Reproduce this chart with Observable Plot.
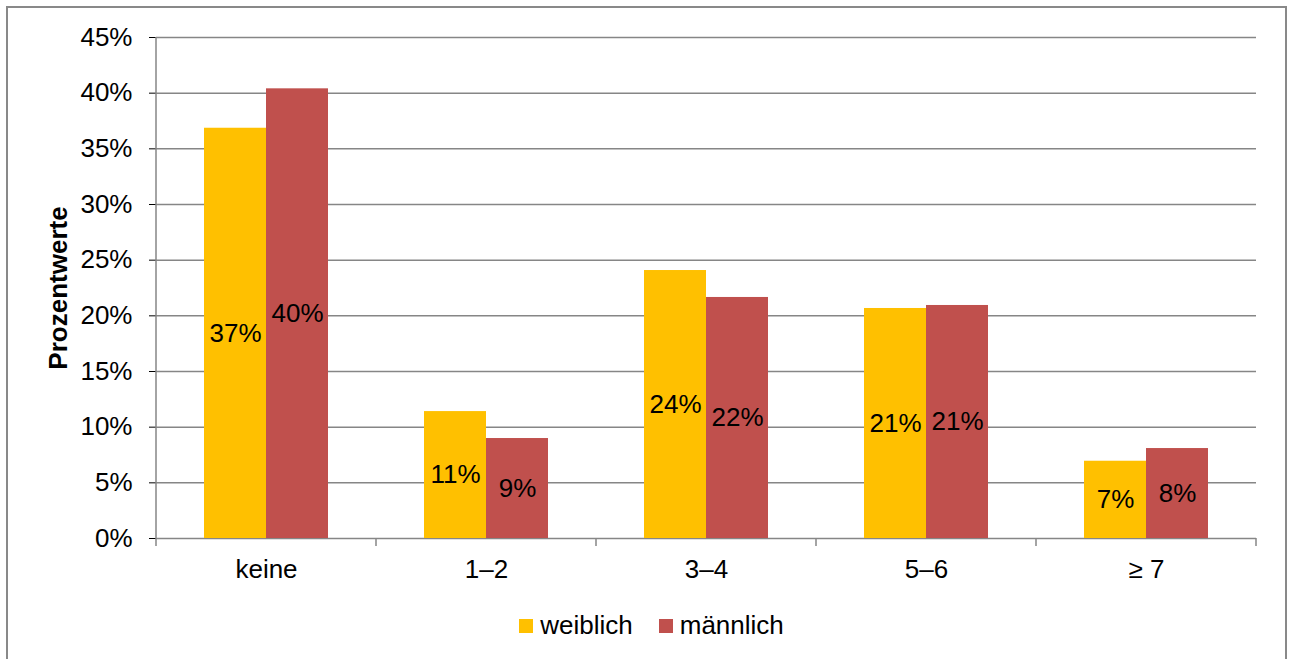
<!DOCTYPE html>
<html>
<head>
<meta charset="utf-8">
<script src="https://cdn.jsdelivr.net/npm/d3@7"></script>
<script src="https://cdn.jsdelivr.net/npm/@observablehq/plot@0.6"></script>
<style>
  html, body { margin: 0; padding: 0; background: #fff; }
  #wrap { position: relative; width: 1293px; height: 659px; overflow: hidden; font-family: "Liberation Sans", Arial, sans-serif; }
  #border { position: absolute; left: 6px; top: 6px; width: 1277px; height: 700px; border: 2px solid #898989; box-sizing: content-box; }
  #chart { position: absolute; left: 0; top: 0; }
  #legend { position: absolute; top: 610px; left: 0; width: 1303px; display: flex; justify-content: center; gap: 26px; font-size: 26px; color: #000; }
  .item { display: flex; align-items: center; gap: 7px; }
  .sw { width: 14px; height: 14px; display: inline-block; }
  svg [aria-label="y-axis label"] { font-weight: bold; }
  svg [aria-label="y-axis tick"] { stroke: #868686; }
</style>
</head>
<body>
<div id="wrap">
  <div id="border"></div>
  <div id="chart"></div>
  <div id="legend"></div>
</div>
<script>
const categories = ["keine", "1–2", "3–4", "5–6", "≥ 7"];
const series = ["weiblich", "männlich"];
const weiblich = [36.85, 11.4, 24.07, 20.66, 6.94];
const maennlich = [40.39, 8.98, 21.65, 20.93, 8.08];
const colors = ["#FFC000", "#C0504D"];
const yTicks = [0, 5, 10, 15, 20, 25, 30, 35, 40, 45];

const data = [];
categories.forEach((c, i) => {
  data.push({cat: c, sex: series[0], value: weiblich[i]});
  data.push({cat: c, sex: series[1], value: maennlich[i]});
});

const gridColor = "#868686";

const chart = Plot.plot({
  width: 1293,
  height: 600,
  marginLeft: 155,
  marginRight: 36,
  marginTop: 37,
  marginBottom: 62,
  style: {fontFamily: "'Liberation Sans', Arial, sans-serif", fontSize: "26px", color: "#000", background: "transparent"},
  fx: {domain: categories, padding: 0, label: null, axis: "bottom", tickSize: 0, tickPadding: 21},
  x: {domain: series, paddingInner: 0, paddingOuter: 0.75, axis: null},
  y: {domain: [0, 45], ticks: yTicks, tickFormat: d => d + "%", tickSize: 7, tickPadding: 17,
      label: "Prozentwerte", labelArrow: "none", labelAnchor: "center", labelOffset: 108, grid: false},
  color: {domain: series, range: colors},
  marks: [
    Plot.ruleY(yTicks, {stroke: gridColor, strokeWidth: 1.5}),
    Plot.barY(data, {fx: "cat", x: "sex", y: "value", fill: "sex"}),
    Plot.text(data, {fx: "cat", x: "sex", y: d => d.value / 2, text: d => Math.round(d.value) + "%", fill: "#000", fontSize: 26})
  ]
});
document.getElementById("chart").appendChild(chart);

// axis line and category boundary ticks, positioned via Plot's own scales
const fx = chart.scale("fx");
const ys = chart.scale("y");
const y0 = ys.apply(0), yTop = ys.apply(45);
const svg = d3.select(chart.tagName.toLowerCase() === "svg" ? chart : chart.querySelector("svg"));
const g = svg.append("g").attr("stroke", gridColor).attr("stroke-width", 1.5);
const left = fx.apply(categories[0]);
g.append("line").attr("x1", left).attr("x2", left).attr("y1", yTop).attr("y2", y0);
const edges = categories.map(c => fx.apply(c));
edges.push(fx.apply(categories[categories.length - 1]) + fx.bandwidth);
edges.forEach(x => g.append("line").attr("x1", x).attr("x2", x).attr("y1", y0).attr("y2", y0 + 8));

const legend = document.getElementById("legend");
series.forEach((s, i) => {
  const it = document.createElement("div");
  it.className = "item";
  it.innerHTML = `<span class="sw" style="background:${colors[i]}"></span><span>${s}</span>`;
  legend.appendChild(it);
});
</script>
</body>
</html>
